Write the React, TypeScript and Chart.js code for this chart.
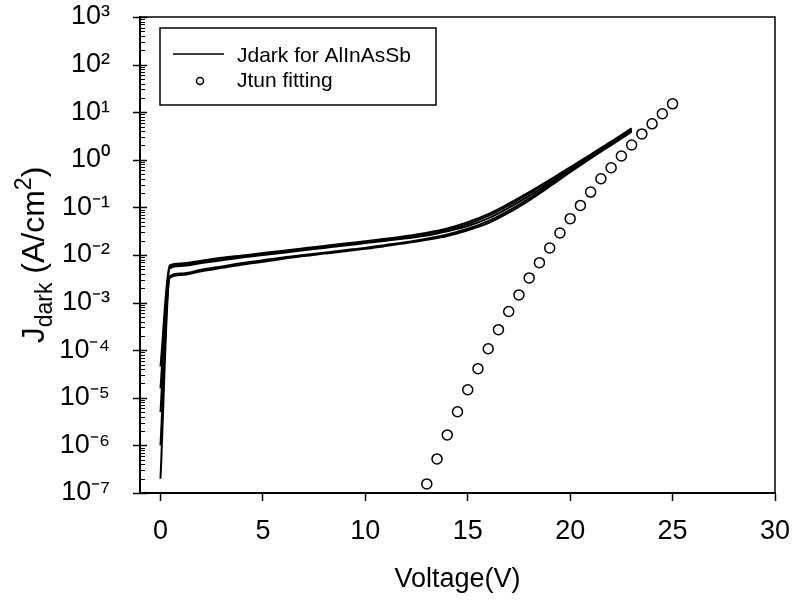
import { useEffect, useRef } from "react";
import { Chart, registerables } from "chart.js";

Chart.register(...registerables);

// ---------- data ----------
const VOLTAGE = [0, 0.45, 1, 2, 3, 4, 5, 6, 7, 8, 9, 10, 11, 12, 13, 14, 15, 16, 17, 18, 19, 20, 21, 22, 23];

const JDARK_1 = [4.5e-5, 6.03e-3, 6.61e-3, 7.59e-3, 8.71e-3, 9.77e-3, 1.1e-2, 1.23e-2, 1.38e-2, 1.55e-2, 1.74e-2, 1.95e-2, 2.19e-2, 2.51e-2, 2.95e-2, 3.63e-2, 4.9e-2, 7.24e-2, 0.12, 0.209, 0.38, 0.692, 1.29, 2.4, 4.57];
const JDARK_2 = [1.58e-5, 5.62e-3, 6.31e-3, 7.24e-3, 8.32e-3, 9.33e-3, 1.05e-2, 1.17e-2, 1.32e-2, 1.48e-2, 1.66e-2, 1.86e-2, 2.09e-2, 2.4e-2, 2.75e-2, 3.39e-2, 4.47e-2, 6.61e-2, 0.11, 0.195, 0.355, 0.661, 1.23, 2.34, 4.47];
const JDARK_3 = [5.0e-6, 5.25e-3, 5.89e-3, 6.76e-3, 7.76e-3, 8.91e-3, 1.0e-2, 1.12e-2, 1.26e-2, 1.41e-2, 1.58e-2, 1.78e-2, 2.0e-2, 2.24e-2, 2.57e-2, 3.16e-2, 4.07e-2, 5.89e-2, 9.77e-2, 0.174, 0.324, 0.617, 1.17, 2.24, 4.27];
const JDARK_4 = [1.0e-6, 3.55e-3, 4.07e-3, 4.9e-3, 5.75e-3, 6.76e-3, 7.76e-3, 8.91e-3, 1.0e-2, 1.12e-2, 1.26e-2, 1.41e-2, 1.62e-2, 1.86e-2, 2.19e-2, 2.69e-2, 3.55e-2, 5.13e-2, 8.51e-2, 0.155, 0.295, 0.575, 1.12, 2.14, 4.07];
const JDARK_5 = [2.0e-7, 3.31e-3, 3.8e-3, 4.57e-3, 5.37e-3, 6.31e-3, 7.24e-3, 8.32e-3, 9.55e-3, 1.07e-2, 1.2e-2, 1.35e-2, 1.55e-2, 1.78e-2, 2.09e-2, 2.51e-2, 3.31e-2, 4.68e-2, 7.76e-2, 0.141, 0.275, 0.55, 1.07, 2.04, 3.89];

const JTUN_V = [13, 13.5, 14, 14.5, 15, 15.5, 16, 16.5, 17, 17.5, 18, 18.5, 19, 19.5, 20, 20.5, 21, 21.5, 22, 22.5, 23, 23.5, 24, 24.5, 25];
const JTUN = [1.55e-7, 5.2e-7, 1.66e-6, 5.1e-6, 1.48e-5, 4.1e-5, 1.07e-4, 2.7e-4, 6.5e-4, 1.45e-3, 3.3e-3, 6.9e-3, 1.4e-2, 2.9e-2, 5.8e-2, 0.11, 0.21, 0.4, 0.68, 1.2, 2.05, 3.5, 5.7, 9.3, 15];

const X_TICKS = [0, 5, 10, 15, 20, 25, 30];
const Y_EXPONENTS = [-7, -6, -5, -4, -3, -2, -1, 0, 1, 2, 3];
const MINOR_MULTIPLIERS = [2, 3, 4, 5, 6, 7, 8, 9];

const LEGEND_LABELS = ["Jdark for AlInAsSb", "Jtun fitting"];
const X_TITLE = "Voltage(V)";

const FONT = "'Liberation Sans', Arial, sans-serif";

const SUP: Record<string, string> = {
  "-": "\u207B", "0": "\u2070", "1": "\u00B9", "2": "\u00B2", "3": "\u00B3",
  "4": "\u2074", "5": "\u2075", "6": "\u2076", "7": "\u2077", "8": "\u2078", "9": "\u2079",
};
const toSup = (n: number) => String(n).split("").map((c) => SUP[c] || c).join("");

const isPow10 = (v: number) => {
  const l = Math.log10(v);
  return Math.abs(l - Math.round(l)) < 1e-6;
};

const darkSets = [JDARK_1, JDARK_2, JDARK_3, JDARK_4, JDARK_5];

const zeroPad = (scale: any) => {
  scale.paddingTop = 0;
  scale.paddingBottom = 0;
  scale.paddingLeft = 0;
  scale.paddingRight = 0;
};

const decorPlugin = {
  id: "decor",
  afterDraw(chart: any) {
    const { ctx, chartArea: ca, scales } = chart;
    const y = scales.y;
    ctx.save();
    ctx.strokeStyle = "#000";
    ctx.fillStyle = "#000";

    // top and right frame
    ctx.lineWidth = 1.5;
    ctx.beginPath();
    ctx.moveTo(ca.left, ca.top);
    ctx.lineTo(ca.right, ca.top);
    ctx.lineTo(ca.right, ca.bottom);
    ctx.stroke();

    // y ticks: majors cross the axis, minors inside
    for (const t of y.ticks) {
      const py = Math.round(y.getPixelForValue(t.value)) + 0.5;
      const major = isPow10(t.value);
      ctx.lineWidth = major ? 1.5 : 1;
      ctx.beginPath();
      ctx.moveTo(major ? ca.left - 7 : ca.left, py);
      ctx.lineTo(ca.left + (major ? 7 : 5), py);
      ctx.stroke();
    }

    // legend
    const lx = ca.left + 20;
    const ly = ca.top + 11;
    ctx.lineWidth = 1.5;
    ctx.strokeRect(lx, ly, 276, 77);
    ctx.beginPath();
    ctx.moveTo(lx + 13, ly + 26);
    ctx.lineTo(lx + 64, ly + 26);
    ctx.stroke();
    ctx.beginPath();
    ctx.arc(lx + 40, ly + 53, 3.5, 0, Math.PI * 2);
    ctx.stroke();
    ctx.font = `21px ${FONT}`;
    ctx.textAlign = "left";
    ctx.textBaseline = "alphabetic";
    ctx.fillText(LEGEND_LABELS[0], lx + 77, ly + 34);
    ctx.fillText(LEGEND_LABELS[1], lx + 77, ly + 59);

    // y axis title with subscript / superscript
    const cy = (ca.top + ca.bottom) / 2;
    ctx.translate(44, cy);
    ctx.rotate(-Math.PI / 2);
    const big = `32px ${FONT}`;
    const small = `23px ${FONT}`;
    const parts = [
      { t: "J", f: big, dy: 0 },
      { t: "dark", f: small, dy: 8 },
      { t: " (A/cm", f: big, dy: 0 },
      { t: "2", f: small, dy: -13 },
      { t: ")", f: big, dy: 0 },
    ];
    let total = 0;
    for (const p of parts) {
      ctx.font = p.f;
      total += ctx.measureText(p.t).width;
    }
    let x = -total / 2;
    for (const p of parts) {
      ctx.font = p.f;
      ctx.fillText(p.t, x, p.dy);
      x += ctx.measureText(p.t).width;
    }
    ctx.restore();
  },
};

export default function App() {
  const ref = useRef<HTMLCanvasElement>(null);

  useEffect(() => {
    if (!ref.current) return;
    Chart.defaults.font.family = FONT;
    Chart.defaults.color = "#000";

    const datasets: any[] = darkSets.map((vals, i) => ({
      type: "line",
      label: i === 0 ? LEGEND_LABELS[0] : LEGEND_LABELS[0] + " " + (i + 1),
      data: VOLTAGE.map((v, k) => ({ x: v, y: vals[k] })),
      borderColor: "#000",
      borderWidth: 2,
      pointRadius: 0,
      fill: false,
      tension: 0,
      cubicInterpolationMode: "monotone",
    }));
    datasets.push({
      type: "scatter",
      label: LEGEND_LABELS[1],
      data: JTUN_V.map((v, k) => ({ x: v, y: JTUN[k] })),
      showLine: false,
      pointStyle: "circle",
      pointRadius: 5,
      pointBorderWidth: 1.5,
      borderColor: "#000",
      backgroundColor: "rgba(255,255,255,0)",
    });

    const yTickValues: number[] = [];
    Y_EXPONENTS.forEach((e, i) => {
      yTickValues.push(Math.pow(10, e));
      if (i < Y_EXPONENTS.length - 1) {
        MINOR_MULTIPLIERS.forEach((m) => yTickValues.push(m * Math.pow(10, e)));
      }
    });

    const chart = new Chart(ref.current, {
      type: "line",
      data: { datasets },
      options: {
        responsive: false,
        animation: false,
        devicePixelRatio: 1,
        layout: { padding: { left: 0, right: 19, top: 17, bottom: 10 } },
        plugins: { legend: { display: false }, tooltip: { enabled: false } },
        scales: {
          x: {
            type: "linear",
            min: -1,
            max: 30,
            afterBuildTicks: (scale: any) => {
              scale.ticks = X_TICKS.map((v) => ({ value: v }));
            },
            afterFit: (scale: any) => {
              scale.height = 103;
              zeroPad(scale);
            },
            ticks: {
              autoSkip: false,
              maxRotation: 0,
              padding: 17,
              font: { size: 27, lineHeight: 1 },
              color: "#000",
              callback: (v: any) => String(v),
            },
            grid: {
              display: true,
              drawOnChartArea: false,
              drawTicks: true,
              tickLength: 8,
              tickColor: "#000",
              tickWidth: 1.5,
            },
            border: { display: true, color: "#000", width: 2 },
            title: {
              display: true,
              text: X_TITLE,
              font: { size: 27 },
              color: "#000",
              padding: 0,
            },
          },
          y: {
            type: "logarithmic",
            min: 1e-7,
            max: 1e3,
            afterBuildTicks: (scale: any) => {
              scale.ticks = yTickValues.map((v) => ({ value: v, major: isPow10(v) }));
            },
            afterFit: (scale: any) => {
              scale.width = 140;
              zeroPad(scale);
            },
            ticks: {
              autoSkip: false,
              padding: 22,
              font: { size: 27, lineHeight: 1 },
              color: "#000",
              callback: (v: any) => {
                const n = Number(v);
                if (!isPow10(n)) return "";
                return "10" + toSup(Math.round(Math.log10(n)));
              },
            },
            grid: { display: false },
            border: { display: true, color: "#000", width: 2 },
          },
        },
      },
      plugins: [decorPlugin],
    } as any);

    return () => chart.destroy();
  }, []);

  return (
    <div style={{ position: "fixed", left: 0, top: 0, width: 794, height: 606, background: "#fff" }}>
      <canvas ref={ref} width={794} height={606} style={{ display: "block", width: 794, height: 606 }} />
    </div>
  );
}
